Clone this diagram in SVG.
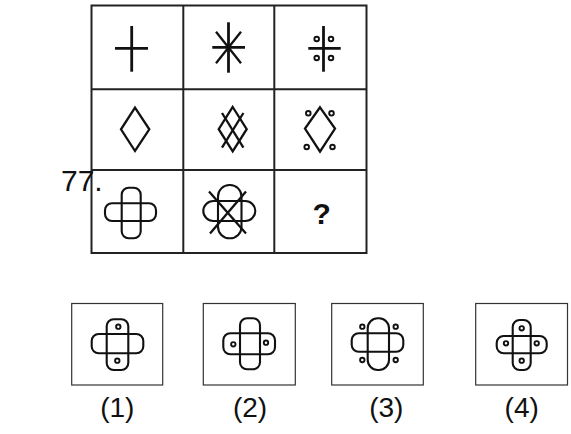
<svg xmlns="http://www.w3.org/2000/svg" width="571" height="434" viewBox="0 0 571 434">
<style>
.grid{fill:none;stroke:#222;stroke-width:2}
.box{fill:none;stroke:#333;stroke-width:1.2}
.thick{fill:none;stroke:#111;stroke-width:2.8;stroke-linecap:butt}
.ln{fill:none;stroke:#111;stroke-width:2.3}
.thin{fill:none;stroke:#111;stroke-width:2.1}
.dot{fill:#fff;stroke:#111;stroke-width:1.9}
.lbl{font-family:"Liberation Sans",Arial,sans-serif;fill:#111}
</style>
<rect width="571" height="434" fill="#fff"/>
<g id="grid">
<rect class="grid" x="91.5" y="5.5" width="275" height="247.5"/>
<line class="grid" x1="183.3" y1="5.5" x2="183.3" y2="253"/>
<line class="grid" x1="274.3" y1="5.5" x2="274.3" y2="253"/>
<line class="grid" x1="91.5" y1="89.3" x2="366.5" y2="89.3"/>
<line class="grid" x1="91.5" y1="170" x2="366.5" y2="170"/>
</g>
<text id="qnum" class="lbl" x="61" y="191" font-size="30">77.</text>
<g id="cell1">
<line class="thick" x1="115" y1="48.3" x2="148" y2="48.3"/>
<line class="thick" x1="131.7" y1="26" x2="131.7" y2="71.7"/>
</g>
<g id="cell2">
<line class="thick" x1="212.3" y1="47.3" x2="245" y2="47.3"/>
<line class="thick" x1="228.5" y1="22.3" x2="228.5" y2="72.7"/>
<line class="ln" x1="216" y1="31.7" x2="241" y2="63.3"/>
<line class="ln" x1="241" y1="31.7" x2="216" y2="63.3"/>
</g>
<g id="cell3">
<line class="thick" x1="308.3" y1="48.3" x2="340.7" y2="48.3"/>
<line class="thick" x1="323.5" y1="26" x2="323.5" y2="71.7"/>
<circle class="dot" cx="316.7" cy="39" r="2.3"/>
<circle class="dot" cx="331" cy="39" r="2.3"/>
<circle class="dot" cx="316.7" cy="58" r="2.3"/>
<circle class="dot" cx="331" cy="58" r="2.3"/>
</g>
<g id="cell4">
<polygon class="ln" points="135,107.7 149.3,129.3 135,151 121,129.3"/>
</g>
<g id="cell5">
<polygon class="ln" points="232.7,107 246.7,129.2 232.7,151.4 218.7,129.2"/>
<line class="ln" x1="222" y1="113" x2="243.4" y2="147.6"/>
<line class="ln" x1="243.4" y1="113" x2="222" y2="147.6"/>
</g>
<g id="cell6">
<polygon class="ln" points="320,107.3 335,128.5 320,151.7 305,128.5"/>
<circle class="dot" cx="308.3" cy="113.3" r="2.3"/>
<circle class="dot" cx="331.5" cy="113.3" r="2.3"/>
<circle class="dot" cx="306.7" cy="147" r="2.3"/>
<circle class="dot" cx="332.5" cy="147" r="2.3"/>
</g>
<g id="cell7">
<rect class="thin" x="105" y="203.3" width="51" height="17.7" rx="7"/>
<rect class="thin" x="121.7" y="187.7" width="19" height="50.6" rx="7"/>
</g>
<g id="cell8">
<rect class="thin" x="203.3" y="201" width="52" height="20" rx="10"/>
<rect class="thin" x="218" y="185" width="23.5" height="53.3" rx="11.5"/>
<line class="ln" x1="209" y1="191.5" x2="246" y2="233.5"/>
<line class="ln" x1="246" y1="191.5" x2="210" y2="233.5"/>
</g>
<g id="cell9">
<text class="lbl" x="321.7" y="224" font-size="30" font-weight="bold" text-anchor="middle">?</text>
</g>
<g id="opt1">
<rect class="box" x="71.7" y="303.5" width="91" height="81.5"/>
<rect class="thin" x="91.7" y="334" width="51.6" height="19.3" rx="7"/>
<rect class="thin" x="106.7" y="319.3" width="21.6" height="50.7" rx="7"/>
<circle class="dot" cx="118.3" cy="326.7" r="2.2"/>
<circle class="dot" cx="117.3" cy="360.7" r="2.2"/>
<text class="lbl" x="117.3" y="417" font-size="28" text-anchor="middle">(1)</text>
</g>
<g id="opt2">
<rect class="box" x="203.3" y="303.5" width="92" height="81.5"/>
<rect class="thin" x="223.3" y="333.3" width="51.7" height="21" rx="7"/>
<rect class="thin" x="240" y="318.3" width="20" height="51" rx="7"/>
<circle class="dot" cx="233.3" cy="344.3" r="2.2"/>
<circle class="dot" cx="266" cy="342.7" r="2.2"/>
<text class="lbl" x="250" y="417" font-size="28" text-anchor="middle">(2)</text>
</g>
<g id="opt3">
<rect class="box" x="331.7" y="303.5" width="91.6" height="81.5"/>
<rect class="thin" x="351.7" y="333.3" width="51.6" height="18.4" rx="7"/>
<rect class="thin" x="367.7" y="318.3" width="21.3" height="51.7" rx="10"/>
<circle class="dot" cx="362.3" cy="326.7" r="2.2"/>
<circle class="dot" cx="395.7" cy="326.7" r="2.2"/>
<circle class="dot" cx="362.3" cy="360" r="2.2"/>
<circle class="dot" cx="395.7" cy="360" r="2.2"/>
<text class="lbl" x="386.3" y="417" font-size="28" text-anchor="middle">(3)</text>
</g>
<g id="opt4">
<rect class="box" x="475.7" y="303.5" width="91.8" height="81.5"/>
<rect class="thin" x="496.7" y="336" width="50" height="17.3" rx="7"/>
<rect class="thin" x="512.7" y="320" width="18" height="50" rx="7"/>
<circle class="dot" cx="521.7" cy="328.3" r="2.2"/>
<circle class="dot" cx="506" cy="343.3" r="2.2"/>
<circle class="dot" cx="536.7" cy="343.3" r="2.2"/>
<circle class="dot" cx="521.7" cy="360.7" r="2.2"/>
<text class="lbl" x="521.7" y="417" font-size="28" text-anchor="middle">(4)</text>
</g>
</svg>
